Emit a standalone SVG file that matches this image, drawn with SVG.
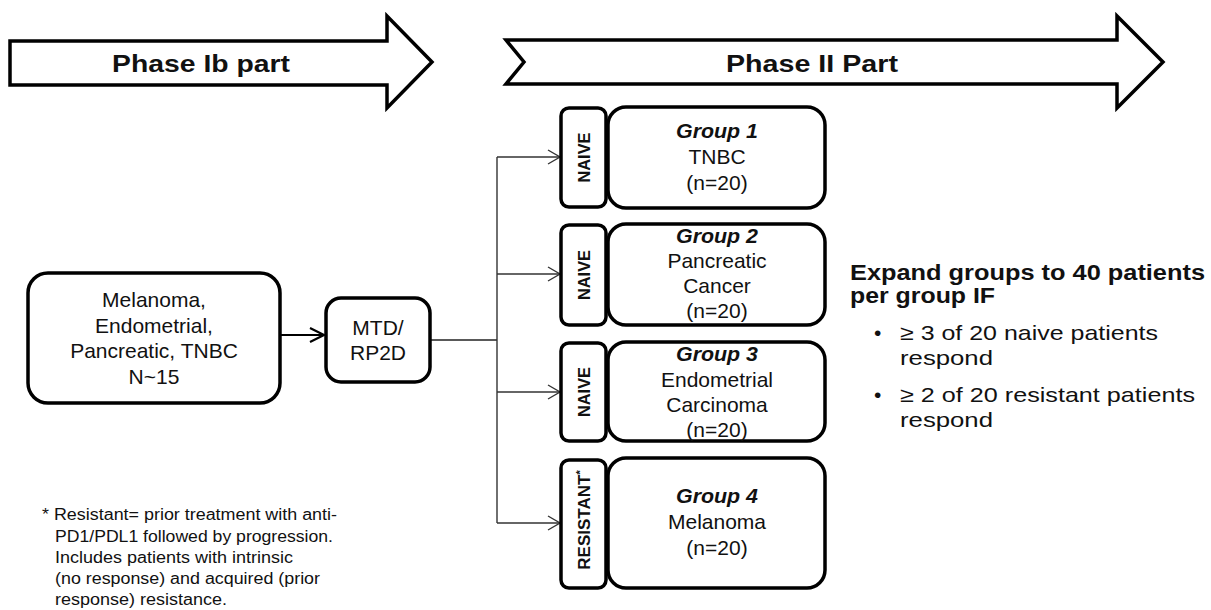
<svg xmlns="http://www.w3.org/2000/svg" width="1211" height="610" viewBox="0 0 1211 610">
<style>
.t{font-family:"Liberation Sans",Arial,sans-serif;fill:#111;}
.big{font-size:24px;font-weight:bold;text-anchor:middle;}
.node{font-size:21px;text-anchor:middle;}
.grp{font-size:21px;font-weight:bold;font-style:italic;text-anchor:middle;}
.vert{font-size:17px;font-weight:bold;text-anchor:middle;}
.box{fill:#fff;stroke:#000;stroke-width:3.5;}
.hd{font-size:22px;font-weight:bold;}
.bl{font-size:21px;}
.fn{font-size:16px;}
</style>
<defs>
<marker id="ah" markerUnits="userSpaceOnUse" markerWidth="18" markerHeight="18" refX="15" refY="8" orient="auto">
<path d="M1,1 L15,8 L1,15" fill="none" stroke="#000" stroke-width="2.2"/>
</marker>
<marker id="ahs" markerUnits="userSpaceOnUse" markerWidth="16" markerHeight="18" refX="13" refY="8" orient="auto">
<path d="M1,1 L13,8 L1,15" fill="none" stroke="#333" stroke-width="1.4"/>
</marker>
</defs>
<rect width="1211" height="610" fill="#fff"/>

<g id="phase1b">
<path d="M10,41 L387,41 L387,16 L432,62 L387,108 L387,85 L10,85 Z" fill="#fff" stroke="#000" stroke-width="3.5" stroke-linejoin="miter"/>
<text class="t big" x="201" y="72" textLength="178" lengthAdjust="spacingAndGlyphs">Phase Ib part</text>
</g>
<g id="phase2">
<path d="M506,40 L1117,40 L1117,16 L1163,62 L1117,108 L1117,84 L506,84 L524,62 Z" fill="#fff" stroke="#000" stroke-width="3.5" stroke-linejoin="miter"/>
<text class="t big" x="812" y="72" textLength="172" lengthAdjust="spacingAndGlyphs">Phase II Part</text>
</g>

<g id="connectors" fill="none">
<line x1="281" y1="335" x2="324" y2="335" stroke="#000" stroke-width="2.2" marker-end="url(#ah)"/>
<line x1="430" y1="340" x2="497" y2="340" stroke="#222" stroke-width="1.6"/>
<line x1="497" y1="157" x2="497" y2="523" stroke="#333" stroke-width="1.4"/>
<line x1="497" y1="157" x2="560" y2="157" stroke="#333" stroke-width="1.4" marker-end="url(#ahs)"/>
<line x1="497" y1="274" x2="560" y2="274" stroke="#333" stroke-width="1.4" marker-end="url(#ahs)"/>
<line x1="497" y1="392" x2="560" y2="392" stroke="#333" stroke-width="1.4" marker-end="url(#ahs)"/>
<line x1="497" y1="523" x2="560" y2="523" stroke="#333" stroke-width="1.4" marker-end="url(#ahs)"/>
</g>

<g id="ib-box">
<rect class="box" x="28" y="273" width="252" height="130" rx="20"/>
<text class="t node" x="154" y="307">Melanoma,</text>
<text class="t node" x="154" y="333">Endometrial,</text>
<text class="t node" x="154" y="358">Pancreatic, TNBC</text>
<text class="t node" x="154" y="384">N~15</text>
</g>
<g id="mtd">
<rect class="box" x="326" y="298" width="104" height="84" rx="15"/>
<text class="t node" x="378" y="335">MTD/</text>
<text class="t node" x="378" y="360">RP2D</text>
</g>

<g id="naive1">
<rect class="box" x="561" y="108" width="45" height="99" rx="8"/>
<text class="t vert" transform="translate(590,157.5) rotate(-90)" textLength="50" lengthAdjust="spacingAndGlyphs">NAIVE</text>
</g>
<g id="group1">
<rect class="box" x="608" y="107" width="217" height="101" rx="18"/>
<text class="t grp" x="717" y="138" textLength="82" lengthAdjust="spacingAndGlyphs">Group  1</text>
<text class="t node" x="717" y="164">TNBC</text>
<text class="t node" x="717" y="190">(n=20)</text>
</g>

<g id="naive2">
<rect class="box" x="561" y="225" width="45" height="100" rx="8"/>
<text class="t vert" transform="translate(590,275) rotate(-90)" textLength="50" lengthAdjust="spacingAndGlyphs">NAIVE</text>
</g>
<g id="group2">
<rect class="box" x="608" y="224" width="217" height="101" rx="18"/>
<text class="t grp" x="717" y="243" textLength="82" lengthAdjust="spacingAndGlyphs">Group  2</text>
<text class="t node" x="717" y="268">Pancreatic</text>
<text class="t node" x="717" y="293">Cancer</text>
<text class="t node" x="717" y="318">(n=20)</text>
</g>

<g id="naive3">
<rect class="box" x="561" y="343" width="45" height="98" rx="8"/>
<text class="t vert" transform="translate(590,392) rotate(-90)" textLength="50" lengthAdjust="spacingAndGlyphs">NAIVE</text>
</g>
<g id="group3">
<rect class="box" x="608" y="342" width="217" height="99" rx="18"/>
<text class="t grp" x="717" y="361" textLength="82" lengthAdjust="spacingAndGlyphs">Group  3</text>
<text class="t node" x="717" y="387">Endometrial</text>
<text class="t node" x="717" y="412">Carcinoma</text>
<text class="t node" x="717" y="437">(n=20)</text>
</g>

<g id="resistant">
<rect class="box" x="561" y="460" width="45" height="128" rx="8"/>
<text class="t vert" transform="translate(590,520) rotate(-90)">RESISTANT<tspan font-size="11" dy="-6">*</tspan></text>
</g>
<g id="group4">
<rect class="box" x="608" y="458" width="217" height="130" rx="18"/>
<text class="t grp" x="717" y="503" textLength="82" lengthAdjust="spacingAndGlyphs">Group  4</text>
<text class="t node" x="717" y="529">Melanoma</text>
<text class="t node" x="717" y="555">(n=20)</text>
</g>

<g id="criteria">
<text class="t hd" x="850" y="280" textLength="355" lengthAdjust="spacingAndGlyphs">Expand groups  to 40 patients</text>
<text class="t hd" x="850" y="303" textLength="145" lengthAdjust="spacingAndGlyphs">per group IF</text>
<text class="t bl" x="874" y="340">•</text>
<text class="t bl" x="900" y="340" textLength="258" lengthAdjust="spacingAndGlyphs">≥ 3 of 20 naive patients</text>
<text class="t bl" x="900" y="365" textLength="93" lengthAdjust="spacingAndGlyphs">respond</text>
<text class="t bl" x="874" y="402">•</text>
<text class="t bl" x="900" y="402" textLength="295" lengthAdjust="spacingAndGlyphs">≥ 2 of 20 resistant patients</text>
<text class="t bl" x="900" y="427" textLength="93" lengthAdjust="spacingAndGlyphs">respond</text>
</g>

<g id="footnote">
<text class="t fn" x="42" y="520" textLength="295" lengthAdjust="spacingAndGlyphs">* Resistant= prior treatment with anti-</text>
<text class="t fn" x="55" y="542" textLength="278" lengthAdjust="spacingAndGlyphs">PD1/PDL1 followed  by progression.</text>
<text class="t fn" x="55" y="563" textLength="238" lengthAdjust="spacingAndGlyphs">Includes patients with intrinsic</text>
<text class="t fn" x="55" y="584" textLength="265" lengthAdjust="spacingAndGlyphs">(no response) and acquired (prior</text>
<text class="t fn" x="55" y="605" textLength="172" lengthAdjust="spacingAndGlyphs">response) resistance.</text>
</g>
</svg>
